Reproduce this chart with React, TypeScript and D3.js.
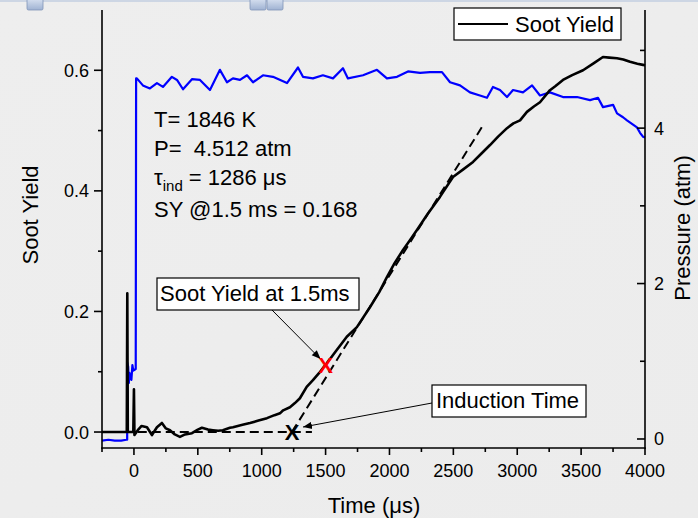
import React from "react";
import * as d3 from "d3";

// ---------- data ----------
const sootTime = [-250, -56, -52, -48, -5, 0, 4, 30, 60, 102, 141, 180, 219, 250, 282, 320, 360, 400, 454, 500, 532, 580, 618, 660, 696, 751, 775, 850, 908, 975, 1041, 1100, 1143, 1168, 1221, 1260, 1299, 1352, 1401, 1450, 1510, 1580, 1666, 1745, 1847, 1920, 1980, 2040, 2106, 2160, 2215, 2300, 2395, 2497, 2580, 2654, 2720, 2787, 2850, 2920, 2970, 3022, 3076, 3130, 3178, 3256, 3300, 3358, 3430, 3515, 3600, 3671, 3720, 3781, 3830, 3883, 3940, 3984, 4000];
const sootYield = [0, 0, 0.23, 0, 0, 0.071, -0.005, 0.003, 0.01, 0.008, -0.005, 0.008, 0.015, 0.006, 0.003, -0.004, -0.008, -0.004, -0.002, 0.004, 0.007, 0.004, 0.003, 0.002, 0.003, 0.007, 0.008, 0.012, 0.015, 0.019, 0.023, 0.028, 0.031, 0.036, 0.041, 0.048, 0.056, 0.075, 0.086, 0.098, 0.114, 0.134, 0.158, 0.174, 0.207, 0.232, 0.257, 0.28, 0.302, 0.318, 0.335, 0.362, 0.39, 0.423, 0.436, 0.448, 0.462, 0.476, 0.49, 0.504, 0.512, 0.517, 0.531, 0.54, 0.547, 0.567, 0.574, 0.584, 0.592, 0.6, 0.612, 0.622, 0.621, 0.62, 0.618, 0.614, 0.611, 0.609, 0.608];

const pressTime = [-250, -200, -150, -100, -60, -53, -52, -45, -40, -35, -28, -20, -12, -5, 14, 17, 23, 70, 125, 180, 227, 297, 337, 384, 454, 517, 595, 673, 728, 775, 830, 885, 932, 1010, 1088, 1198, 1284, 1323, 1401, 1479, 1558, 1636, 1675, 1793, 1902, 1980, 2059, 2145, 2239, 2317, 2411, 2474, 2552, 2630, 2708, 2763, 2810, 2865, 2920, 2967, 3045, 3116, 3178, 3256, 3358, 3468, 3570, 3632, 3671, 3750, 3781, 3828, 3859, 3937, 3961, 3984, 4000];
const pressure = [-0.02, -0.01, -0.02, -0.02, -0.01, -0.01, 0.98, 0.93, 0.72, 0.85, 0.8, 0.76, 0.95, 0.88, 0.9, 4.64, 4.64, 4.55, 4.51, 4.58, 4.53, 4.66, 4.62, 4.5, 4.63, 4.62, 4.49, 4.75, 4.59, 4.64, 4.62, 4.68, 4.59, 4.68, 4.66, 4.58, 4.78, 4.66, 4.64, 4.68, 4.64, 4.77, 4.64, 4.68, 4.75, 4.64, 4.66, 4.73, 4.71, 4.72, 4.72, 4.59, 4.55, 4.46, 4.42, 4.39, 4.53, 4.49, 4.4, 4.49, 4.46, 4.55, 4.42, 4.46, 4.4, 4.4, 4.36, 4.39, 4.27, 4.3, 4.19, 4.14, 4.1, 4.01, 3.94, 3.89, 3.88];

const baselineTime = [30, 1393];
const baselineYield = [0, 0];
const tangentTime = [1237, 2724];
const tangentYield = [0, 0.506];

const xMajorTicks = [0, 500, 1000, 1500, 2000, 2500, 3000, 3500, 4000];
const xMinorTicks = [-250, 250, 750, 1250, 1750, 2250, 2750, 3250, 3750];
const yLeftMajor = [0, 0.2, 0.4, 0.6];
const yLeftMinor = [0.1, 0.3, 0.5];
const yRightMajor = [0, 2, 4];
const yRightMinor = [1, 3, 5];

const infoLines = ["T= 1846 K", "P=  4.512 atm", "SY @1.5 ms = 0.168"];
const inductionPoint = [1237, 0];
const sy15Point = [1500, 0.111];

const FONT = "'Liberation Sans', Arial, Helvetica, sans-serif";

export default function App() {
  const W = 698, H = 518;
  const x = d3.scaleLinear().domain([-250, 4000]).range([102, 645]);
  const yL = d3.scaleLinear().domain([-0.0265, 0.7]).range([448, 10]);
  const yR = d3.scaleLinear().domain([-0.116, 5.52]).range([448, 10]);

  const sootLine = d3.line<number>().x((_, i) => x(sootTime[i])).y((d) => yL(d));
  const pressLine = d3.line<number>().x((_, i) => x(pressTime[i])).y((d) => yR(d));
  const baseLine = d3.line<number>().x((_, i) => x(baselineTime[i])).y((d) => yL(d));
  const tanLine = d3.line<number>().x((_, i) => x(tangentTime[i])).y((d) => yL(d));

  const redX = [x(sy15Point[0]), yL(sy15Point[1])];
  const blkX = [x(inductionPoint[0]), yL(inductionPoint[1])];

  return (
    <svg width={W} height={H} style={{ position: "absolute", left: 0, top: 0, fontFamily: FONT }}>
      <defs>
        <linearGradient id="bg" x1="0" y1="0" x2="1" y2="1">
          <stop offset="0" stopColor="#eeeeee" />
          <stop offset="1" stopColor="#ececec" />
        </linearGradient>
        <linearGradient id="icon" x1="0" y1="0" x2="0" y2="1">
          <stop offset="0" stopColor="#dbe4f2" />
          <stop offset="1" stopColor="#9fb2d2" />
        </linearGradient>
        <marker id="arrow" viewBox="0 0 10 10" refX="10" refY="5" markerWidth="9" markerHeight="9" markerUnits="userSpaceOnUse" orient="auto">
          <path d="M0,1 L10,5 L0,9 Z" fill="#000" />
        </marker>
      </defs>
      <rect x={0} y={0} width={W} height={H} fill="url(#bg)" />
      <rect x={0} y={0} width={W} height={2} fill="#cdd6e4" />
      <rect x={27} y={-2} width={16} height={12} fill="url(#icon)" stroke="#8094b8" strokeWidth={0.8} rx={1.5} />
      <rect x={250} y={-2} width={16} height={12} fill="url(#icon)" stroke="#8094b8" strokeWidth={0.8} rx={1.5} />
      <rect x={267} y={-2} width={16} height={12} fill="url(#icon)" stroke="#8094b8" strokeWidth={0.8} rx={1.5} />

      {/* data lines */}
      <path d={pressLine(pressure) || ""} fill="none" stroke="#0000ff" strokeWidth={2.2} strokeLinejoin="round" />
      <path d={sootLine(sootYield) || ""} fill="none" stroke="#000" strokeWidth={2.6} strokeLinejoin="round" />
      <path d={baseLine(baselineYield) || ""} fill="none" stroke="#000" strokeWidth={2} strokeDasharray="9 5" />
      <path d={tanLine(tangentYield) || ""} fill="none" stroke="#000" strokeWidth={2} strokeDasharray="9 5" />

      {/* axes */}
      <g stroke="#000" strokeWidth={1.6}>
        <line x1={102} y1={10} x2={102} y2={448.8} />
        <line x1={645} y1={10} x2={645} y2={448.8} />
        <line x1={101.2} y1={448} x2={645.8} y2={448} />
        {xMajorTicks.map((t) => <line key={"xm" + t} x1={x(t)} x2={x(t)} y1={448} y2={455} />)}
        {xMinorTicks.map((t) => <line key={"xn" + t} x1={x(t)} x2={x(t)} y1={448} y2={452} />)}
        {yLeftMajor.map((t) => <line key={"lm" + t} x1={94} x2={102} y1={yL(t)} y2={yL(t)} />)}
        {yLeftMinor.map((t) => <line key={"ln" + t} x1={98} x2={102} y1={yL(t)} y2={yL(t)} />)}
        {yRightMajor.map((t) => <line key={"rm" + t} x1={637} x2={645} y1={yR(t)} y2={yR(t)} />)}
        {yRightMinor.map((t) => <line key={"rn" + t} x1={640} x2={645} y1={yR(t)} y2={yR(t)} />)}
      </g>
      <g fontSize={18} fill="#000">
        {xMajorTicks.map((t) => (
          <text key={"xl" + t} x={x(t)} y={477} textAnchor="middle">{t}</text>
        ))}
        {yLeftMajor.map((t) => (
          <text key={"yl" + t} x={89} y={yL(t) + 6.5} textAnchor="end">{t.toFixed(1)}</text>
        ))}
        {yRightMajor.map((t) => (
          <text key={"yr" + t} x={654} y={yR(t) + 6.5} textAnchor="start">{t}</text>
        ))}
      </g>
      <text x={374} y={513} fontSize={22} textAnchor="middle">Time (μs)</text>
      <text transform="translate(38,215) rotate(-90)" fontSize={22} textAnchor="middle">Soot Yield</text>
      <text transform="translate(690,228) rotate(-90)" fontSize={22} textAnchor="middle">Pressure (atm)</text>

      {/* info text */}
      <g fontSize={22} fill="#000">
        <text x={154} y={127}>{infoLines[0]}</text>
        <text x={154} y={156} style={{ whiteSpace: "pre" }}>{infoLines[1]}</text>
        <text x={154} y={185}>
          <tspan>τ</tspan>
          <tspan fontSize={15} dy={6}>ind</tspan>
          <tspan dy={-6}> = 1286 μs</tspan>
        </text>
        <text x={154} y={217}>{infoLines[2]}</text>
      </g>

      {/* legend */}
      <rect x={454} y={8} width={167} height={32} fill="#fff" stroke="#000" strokeWidth={1.2} />
      <line x1={458} x2={508} y1={24} y2={24} stroke="#000" strokeWidth={2.2} />
      <text x={515} y={32} fontSize={22}>Soot Yield</text>

      {/* annotation boxes */}
      <rect x={157} y={278} width={202} height={32} fill="#fff" stroke="#000" strokeWidth={1.2} />
      <text x={160} y={301} fontSize={22}>Soot Yield at 1.5ms</text>
      <line x1={272} y1={310} x2={redX[0] - 5} y2={redX[1] - 6} stroke="#000" strokeWidth={1} markerEnd="url(#arrow)" />

      <rect x={432} y={385} width={154} height={32} fill="#fff" stroke="#000" strokeWidth={1.2} />
      <text x={436} y={408} fontSize={22}>Induction Time</text>
      <line x1={432} y1={403} x2={blkX[0] + 11} y2={blkX[1] - 5} stroke="#000" strokeWidth={1} markerEnd="url(#arrow)" />

      {/* markers */}
      <text x={redX[0]} y={redX[1] + 8} fontSize={22} fontWeight="bold" fill="#ff0000" textAnchor="middle">X</text>
      <text x={blkX[0]} y={blkX[1] + 8} fontSize={22} fontWeight="bold" fill="#000" textAnchor="middle">X</text>
    </svg>
  );
}
